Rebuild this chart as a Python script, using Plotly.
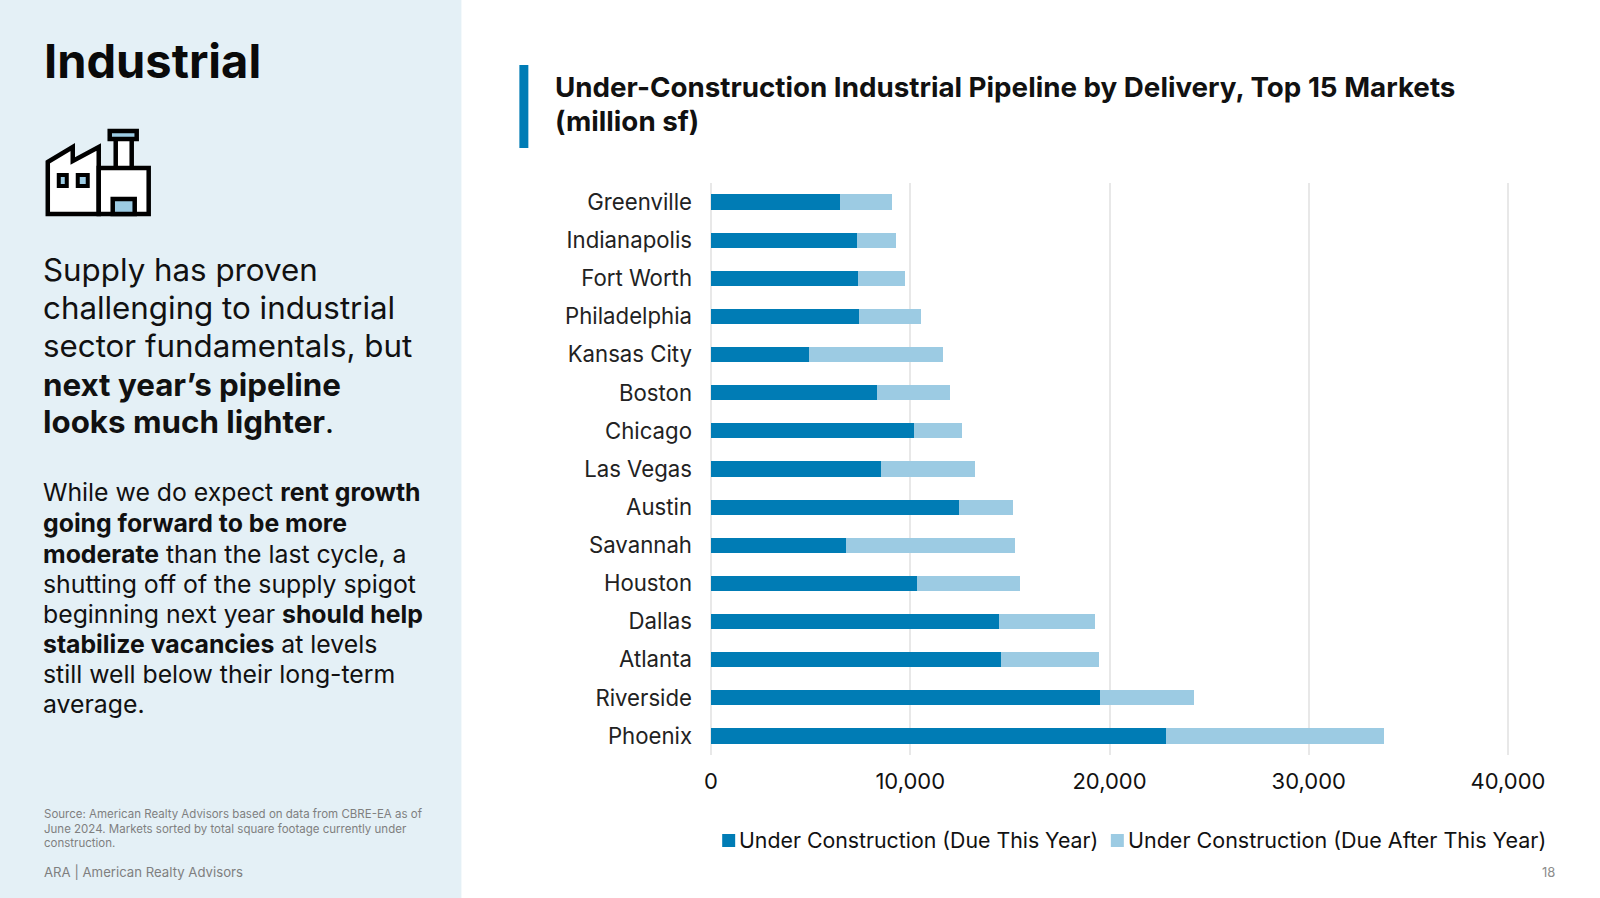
import plotly.graph_objects as go

W, H = 1600, 898
L, R, T, B = 710.8, 1512.5, 183.0, 755.0

markets = ["Greenville", "Indianapolis", "Fort Worth", "Philadelphia", "Kansas City", "Boston", "Chicago",
           "Las Vegas", "Austin", "Savannah", "Houston", "Dallas", "Atlanta", "Riverside", "Phoenix"]
due_this_year = [6450, 7350, 7370, 7420, 4930, 8340, 10200, 8540, 12430, 6750, 10330, 14450, 14530, 19510, 22810]
total = [9100, 9300, 9720, 10560, 11660, 11970, 12580, 13250, 15170, 15240, 15500, 19280, 19490, 24250, 33800]
due_after = [t - d for t, d in zip(total, due_this_year)]
x_ticks = [0, 10000, 20000, 30000, 40000]
series_names = ["Under Construction (Due This Year)", "Under Construction (Due After This Year)"]

FONT = "Inter"
DARK, LIGHT = "#007CB5", "#9CCBE3"
PANEL = "#E4F0F6"


def px(x):
    return (x - L) / (R - L)


def py(y):
    return (B - y) / (B - T)


fig = go.Figure()
fig.add_bar(y=markets, x=due_this_year, orientation="h", name=series_names[0],
            marker=dict(color=DARK, line_width=0))
fig.add_bar(y=markets, x=due_after, orientation="h", name=series_names[1],
            marker=dict(color=LIGHT, line_width=0))


def rect(x0, y0, x1, y1, fill, line=None, lw=0, layer="above"):
    fig.add_shape(type="rect", xref="paper", yref="paper", x0=px(x0), x1=px(x1), y0=py(y0), y1=py(y1),
                  fillcolor=fill, line=dict(color=line or fill, width=lw), layer=layer)


def poly(pts, fill, lw=4.5):
    d = "M" + " L".join(f"{px(a)},{py(b)}" for a, b in pts) + " Z"
    fig.add_shape(type="path", xref="paper", yref="paper", path=d, fillcolor=fill,
                  line=dict(color="#000000", width=lw), layer="above")


rect(-5, -5, 461, H + 5, PANEL, layer="below")
rect(519, 65, 528, 148, DARK)

# factory icon
rect(115, 137, 131, 170, "#FFFFFF", "#000000", 4.5)
rect(109, 131, 136, 139, LIGHT, "#000000", 4.5)
poly([(47, 162), (72, 147), (72, 161), (98, 147), (98, 214), (47, 214)], "#FFFFFF")
rect(98, 168, 148, 214, "#FFFFFF", "#000000", 4.5)
rect(58, 175, 66, 186, LIGHT, "#000000", 4)
rect(77, 175, 87, 186, LIGHT, "#000000", 4)
rect(112, 199, 134, 214, LIGHT, "#000000", 4.5)


def text(x, y, s, size, color="#111111", anchor="left"):
    fig.add_annotation(xref="paper", yref="paper", x=px(x), y=py(y), text=s, showarrow=False,
                       xanchor=anchor, yanchor="middle", align=anchor,
                       font=dict(family=FONT, size=size, color=color))


text(41.5, 61, "<b>Industrial</b>", 47, "#0A0A0A")
for y, s in [(270, "Supply has proven"), (308, "challenging to industrial"), (346, "sector fundamentals, but"),
             (385, "<b>next year’s pipeline</b>"), (422, "<b>looks much lighter</b>.")]:
    text(40.5, y, s, 31.3)
for y, s in [(492, "While we do expect <b>rent growth</b>"), (523, "<b>going forward to be more</b>"),
             (554, "<b>moderate</b> than the last cycle, a"), (584, "shutting off of the supply spigot"),
             (614, "beginning next year <b>should help</b>"), (644, "<b>stabilize vacancies</b> at levels"),
             (674, "still well below their long-term"), (704, "average.")]:
    text(40, y, s, 24.8)
for y, s in [(814, "Source: American Realty Advisors based on data from CBRE-EA as of"),
             (829, "June 2024. Markets sorted by total square footage currently under"),
             (843, "construction.")]:
    text(41, y, s, 11.5, "#7F7F7F")
text(41, 872, "ARA | American Realty Advisors", 13.2, "#7F7F7F")
text(1558, 872, "18", 13, "#8C8C8C", "right")
text(553, 87, "<b>Under-Construction Industrial Pipeline by Delivery, Top 15 Markets</b>", 27.75)
text(553, 121, "<b>(million sf)</b>", 27.75)

# legend key, laid out to the reference's tight swatch spacing
rect(722, 834, 735, 847, DARK)
text(737, 840, series_names[0], 21.3)
rect(1111, 834, 1124, 847, LIGHT)
text(1126, 840, series_names[1], 21.5)

fig.update_layout(
    width=W, height=H, autosize=False, barmode="stack", bargap=0.6, showlegend=False,
    margin=dict(l=L, r=W - R, t=T, b=H - B, pad=0),
    paper_bgcolor="#FFFFFF", plot_bgcolor="rgba(0,0,0,0)",
    font=dict(family=FONT, color="#111111"),
    xaxis=dict(range=[0, 40200], tickvals=x_ticks, tickformat=",", showgrid=True, gridcolor="#E8E8E8",
               gridwidth=2, zeroline=True, zerolinecolor="#E8E8E8", zerolinewidth=2, showline=False, ticks="",
               ticklabelstandoff=11, tickfont=dict(size=22, family=FONT, color="#111111"), automargin=False),
    yaxis=dict(categoryorder="array", categoryarray=markets, autorange="reversed", showgrid=False,
               showline=False, ticks="", ticklabelstandoff=18,
               tickfont=dict(size=22.2, family=FONT, color="#222222"), automargin=False),
)

fig.write_html("out.html", post_script="document.body.style.margin='0';document.body.style.overflow='hidden';",
               config={"displayModeBar": False})
